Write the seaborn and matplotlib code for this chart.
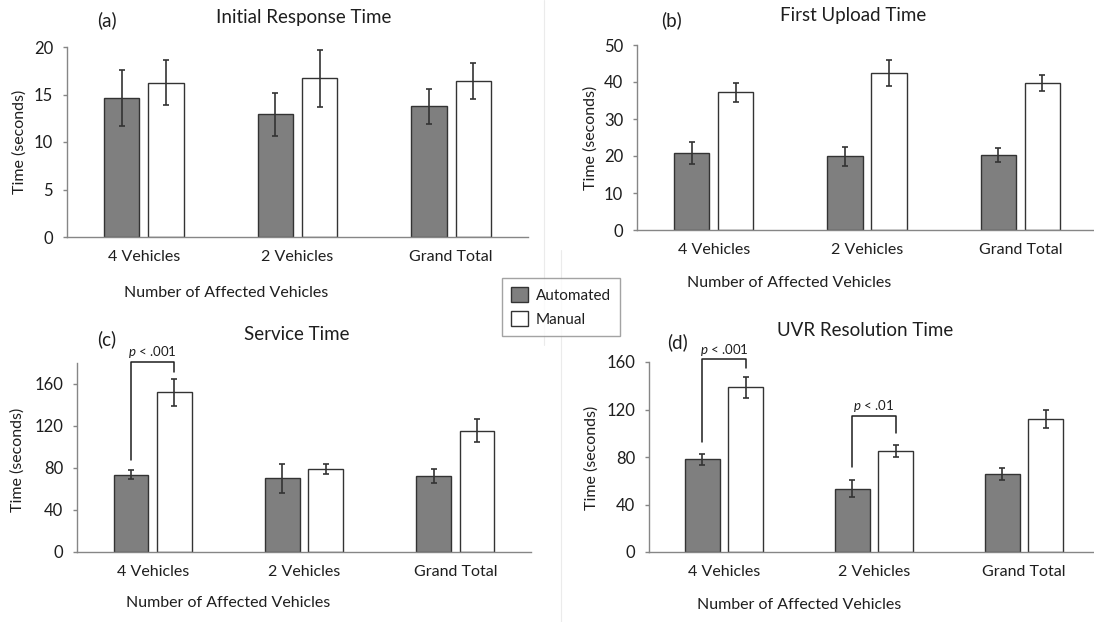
import numpy as np
import pandas as pd
import matplotlib.pyplot as plt
from matplotlib.lines import Line2D
import seaborn as sns

sns.set_style("white")
plt.rcParams['font.family'] = ['Lato', 'DejaVu Sans']
plt.rcParams['mathtext.fontset'] = 'custom'
plt.rcParams['mathtext.it'] = 'Lato:italic'
plt.rcParams['mathtext.rm'] = 'Lato'

categories = ['4 Vehicles', '2 Vehicles', 'Grand Total']
conditions = ['Automated', 'Manual']

initial_auto = [14.6, 12.9, 13.75]
initial_auto_err = [2.95, 2.3, 1.85]
initial_manual = [16.25, 16.7, 16.45]
initial_manual_err = [2.35, 3.0, 1.9]

upload_auto = [20.8, 19.9, 20.2]
upload_auto_err = [2.9, 2.5, 1.9]
upload_manual = [37.2, 42.4, 39.7]
upload_manual_err = [2.55, 3.55, 2.2]

service_auto = [73.8, 70.1, 72.3]
service_auto_err = [4.3, 13.7, 7.0]
service_manual = [152.1, 79.2, 115.5]
service_manual_err = [12.8, 4.9, 11.0]

uvr_auto = [78.0, 53.4, 65.7]
uvr_auto_err = [4.5, 6.9, 5.0]
uvr_manual = [138.7, 85.3, 112.2]
uvr_manual_err = [9.0, 4.9, 7.7]

W, H = 1094, 622
TXT = '#1e1e1e'
AXC = '#868686'
palette = {'Automated': '#7f7f7f', 'Manual': '#ffffff'}


def px_axes(fig, x0, y0, x1, y1):
    # pixel box (top-left origin) -> figure fraction
    return fig.add_axes([x0 / W, 1 - y1 / H, (x1 - x0) / W, (y1 - y0) / H])


def draw_panel(ax, auto, auto_err, manual, manual_err, ymax, yticks, xlab_xy, ylab_xy):
    df = pd.DataFrame({
        'category': categories * 2,
        'condition': ['Automated'] * 3 + ['Manual'] * 3,
        'time': auto + manual,
    })
    sns.barplot(data=df, x='category', y='time', hue='condition', order=categories,
                hue_order=conditions, palette=palette, width=0.574, gap=0.2,
                edgecolor='#333333', linewidth=1.0, errorbar=None, legend=False, ax=ax)
    for cont, errs in zip(ax.containers, [auto_err, manual_err]):
        for bar, e in zip(cont, errs):
            ax.errorbar(bar.get_x() + bar.get_width() / 2, bar.get_height(), yerr=e,
                        fmt='none', ecolor='#333333', elinewidth=1.2, capsize=2.4,
                        capthick=1.2, zorder=5)
    ax.set_xlim(-0.5, 2.5)
    ax.set_ylim(0, ymax)
    ax.set_yticks(yticks)
    sns.despine(ax=ax)
    for s in ['left', 'bottom']:
        ax.spines[s].set_color(AXC)
        ax.spines[s].set_linewidth(1.0)
    ax.tick_params(axis='y', length=3, width=1.0, color=AXC, pad=7,
                   labelsize=12, labelcolor=TXT, left=True)
    ax.tick_params(axis='x', length=0, pad=9.5, labelsize=11.5, labelcolor=TXT)
    ax.set_xlabel('Number of Affected Vehicles', fontsize=11.5, color=TXT)
    ax.set_ylabel('Time (seconds)', fontsize=11.5, color=TXT)
    ax.xaxis.set_label_coords(*xlab_xy)
    ax.xaxis.label.set_va('center')
    ax.yaxis.set_label_coords(*ylab_xy)
    ax.yaxis.label.set_va('center')


def bracket(ax, cat, y_left, y_top, y_right, label, text_y):
    x1 = ax.containers[0][cat]
    x2 = ax.containers[1][cat]
    xa = x1.get_x() + x1.get_width() / 2
    xb = x2.get_x() + x2.get_width() / 2
    ax.plot([xa, xa, xb, xb], [y_left, y_top, y_top, y_right], color='#1e1e1e',
            lw=1.1, clip_on=False, zorder=6)
    ax.text((xa + xb) / 2, text_y, label, ha='center', va='center', fontsize=9.5,
            color=TXT, clip_on=False)


fig = plt.figure(figsize=(W / 100, H / 100), dpi=100)

ax_a = px_axes(fig, 67, 47, 528, 237)
draw_panel(ax_a, initial_auto, initial_auto_err, initial_manual, initial_manual_err,
           20, [0, 5, 10, 15, 20], (0.345, -0.295), (-0.104, 0.5))

ax_b = px_axes(fig, 637, 45, 1097, 230)
draw_panel(ax_b, upload_auto, upload_auto_err, upload_manual, upload_manual_err,
           50, [0, 10, 20, 30, 40, 50], (0.33, -0.286), (-0.102, 0.5))

ax_c = px_axes(fig, 77, 363, 531, 552)
draw_panel(ax_c, service_auto, service_auto_err, service_manual, service_manual_err,
           180, [0, 40, 80, 120, 160], (0.333, -0.27), (-0.13, 0.487))
bracket(ax_c, 0, 88, 181, 171.5, r'$\it{p}$ < .001', 190)

ax_d = px_axes(fig, 649, 362, 1099, 552)
draw_panel(ax_d, uvr_auto, uvr_auto_err, uvr_manual, uvr_manual_err,
           160, [0, 40, 80, 120, 160], (0.333, -0.279), (-0.127, 0.495))
bracket(ax_d, 0, 93, 162.8, 155, r'$\it{p}$ < .001', 170.5)
bracket(ax_d, 1, 72, 114.5, 100.5, r'$\it{p}$ < .01', 123)

# titles and panel letters
for (x, y, s) in [(304, 18, 'Initial Response Time'), (853, 16, 'First Upload Time'),
                  (297, 335, 'Service Time'), (865, 331, 'UVR Resolution Time')]:
    fig.text(x / W, 1 - y / H, s, ha='center', va='center', fontsize=13.5, color=TXT)
for (x, y, s) in [(107, 20, '(a)'), (672, 20, '(b)'), (107, 339, '(c)'), (677, 342, '(d)')]:
    fig.text(x / W, 1 - y / H, s, ha='center', va='center', fontsize=13.5, color=TXT)

# faint panel borders
fig.add_artist(Line2D([544 / W, 544 / W], [1 - 345 / H, 1.0], color='#ebebeb', lw=0.8))
fig.add_artist(Line2D([561 / W, 561 / W], [0.0, 1 - 250 / H], color='#ebebeb', lw=0.8))

leg = fig.legend(handles=[ax_a.containers[0][0], ax_a.containers[1][0]], labels=conditions,
                 loc='upper left', bbox_to_anchor=(502 / W, 1 - 278 / H), fontsize=11,
                 frameon=True, fancybox=False, handlelength=1.1, handleheight=1.1,
                 handletextpad=0.5, borderpad=0.6, labelspacing=0.55, borderaxespad=0)
leg.get_frame().set_edgecolor('#8c8c8c')
leg.get_frame().set_linewidth(1.0)
for t in leg.get_texts():
    t.set_color(TXT)

fig.savefig('out.png', dpi=100)
